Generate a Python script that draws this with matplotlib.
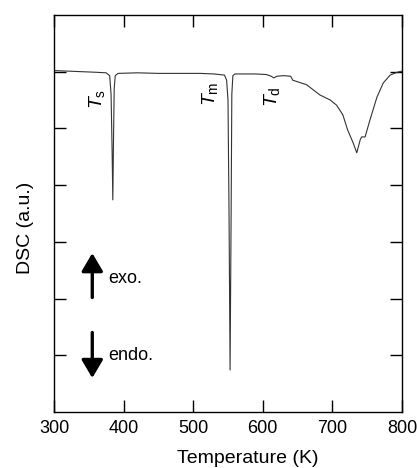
import numpy as np
import matplotlib
matplotlib.use("Agg")
import matplotlib.pyplot as plt

plt.rcParams['font.family'] = ['Liberation Sans', 'DejaVu Sans']
plt.rcParams['mathtext.fontset'] = 'custom'
plt.rcParams['mathtext.it'] = 'Liberation Sans:italic'
plt.rcParams['mathtext.rm'] = 'Liberation Sans'

# DSC trace (temperature K, signal a.u.)
temp = [300, 320, 340, 360, 375, 380, 382, 383.5, 384.5, 385.5, 386.5, 388, 392,
        420, 450, 480, 510, 530, 545, 548, 550, 551.5, 553, 554.5, 555.5, 557, 560,
        590, 605, 612, 616, 620, 630, 640, 643, 663, 682, 697, 706, 715, 722, 730,
        735, 740, 742, 747, 754, 764, 773, 783, 793, 800]
dsc = [6.02, 6.01, 6.00, 5.99, 5.98, 5.93, 5.6, 4.6, 3.74, 4.8, 5.7, 5.93, 5.97,
       5.98, 5.97, 5.97, 5.97, 5.96, 5.94, 5.85, 5.5, 3.5, 0.74, 3.5, 5.6, 5.93, 5.96,
       5.96, 5.95, 5.92, 5.89, 5.92, 5.93, 5.92, 5.85, 5.77, 5.59, 5.50, 5.41, 5.24, 4.97, 4.74,
       4.57, 4.80, 4.85, 4.85, 5.15, 5.55, 5.80, 5.94, 5.99, 6.01]

labels = [r'$T_\mathrm{s}$', r'$T_\mathrm{m}$', r'$T_\mathrm{d}$']
label_x = [362, 524, 613]
label_y = [5.52, 5.61, 5.56]

fig = plt.figure(figsize=(4.17, 4.68), dpi=100)
ax = fig.add_axes([0.1295, 0.1197, 0.8345, 0.8483])

ax.plot(temp, dsc, color='#333333', lw=0.8)

for s, x, y in zip(labels, label_x, label_y):
    ax.text(x, y, s, rotation=90, fontsize=14, ha='center', va='center')

# exo / endo arrows
arr = dict(arrowstyle='-|>,head_width=0.65,head_length=1.1', color='black', lw=2.4)
ax.annotate('', xy=(355, 2.85), xytext=(355, 1.97), arrowprops=arr)
ax.annotate('', xy=(355, 0.55), xytext=(355, 1.45), arrowprops=arr)
ax.text(378, 2.35, 'exo.', fontsize=13, va='center')
ax.text(378, 0.99, 'endo.', fontsize=13, va='center')

ax.set_xlim(300, 800)
ax.set_ylim(0, 7)
ax.set_xticks([300, 400, 500, 600, 700, 800])
ax.set_yticks([1, 2, 3, 4, 5, 6])
ax.set_yticklabels([])
ax.tick_params(direction='in', length=8.5, width=1, top=True, right=True, labelsize=13, pad=6)
for sp in ax.spines.values():
    sp.set_linewidth(1)

ax.set_xlabel('Temperature (K)', fontsize=14, va='center')
ax.xaxis.set_label_coords(0.557, -0.116)
ax.set_ylabel('DSC (a.u.)', fontsize=14, va='center')
ax.yaxis.set_label_coords(-0.083, 0.463)

fig.savefig('out.png', dpi=100)
